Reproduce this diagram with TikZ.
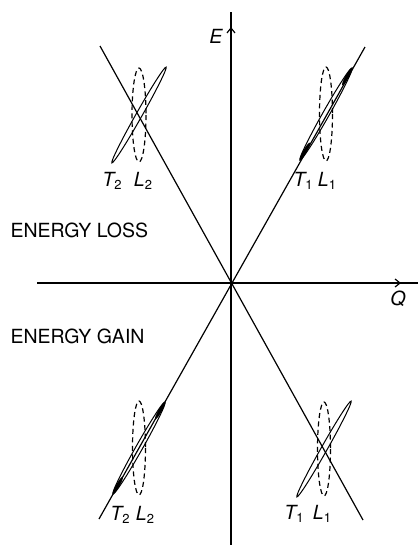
\documentclass[tikz,border=0pt]{standalone}
\usepackage{fontspec}
\setmainfont{TeX Gyre Heros}
\usetikzlibrary{arrows.meta}
\begin{document}
\begin{tikzpicture}[x=1pt,y=-1pt,line width=1.2pt,
  axisline/.style={line width=1.2pt},
  branch/.style={line width=1.2pt},
  tell/.style={line width=1pt},
  lell/.style={line width=1.2pt,dash pattern=on 5pt off 3.5pt},
  axtip/.style={-{Straight Barb[length=5pt,width=8pt,line width=1.2pt]}},
  lab/.style={font=\fontsize{19.5}{19.5}\selectfont,inner sep=0pt}]
\useasboundingbox (0,0) rectangle (420,550);
\newcommand\subn[1]{\raisebox{-3.5pt}{\fontsize{13}{13}\selectfont\upshape #1}}
% axes
\coordinate (O) at (231,283);
\coordinate (xl) at (37,283);
\coordinate (xr) at (418,283);
\coordinate (yt) at (231,12);
\coordinate (yb) at (231,545);
\draw[axisline] (xl) -- (xr);
\draw[axisline] (yt) -- (yb);
\coordinate (xa) at (390,283);
\coordinate (xat) at (401,283);
\coordinate (ya) at (231,38);
\coordinate (yat) at (231,27);
\draw[axtip] (xa) -- (xat);
\draw[axtip] (ya) -- (yat);
% branches
\coordinate (A1) at (100,46);
\coordinate (A2) at (363,520);
\coordinate (B1) at (99,519);
\coordinate (B2) at (365,47);
\draw[branch] (A1) -- (A2);
\draw[branch] (B1) -- (B2);
% upper left
\coordinate (UL) at (139,115);
\draw[lell] (UL) ellipse [x radius=7,y radius=47];
\draw[tell,shift={(UL)},rotate=60.5] (0,0) ellipse [x radius=55,y radius=3];
% upper right
\coordinate (UR) at (326,114);
\draw[lell] (UR) ellipse [x radius=6.5,y radius=47];
\draw[tell,shift={(UR)},rotate=60.5] (0,0) ellipse [x radius=53,y radius=3.3];
\fill[shift={(UR)},rotate=60.5] (43,0) ellipse [x radius=10,y radius=1.8];
\fill[shift={(UR)},rotate=60.5] (-43,0) ellipse [x radius=10,y radius=1.8];
% lower left
\coordinate (LL) at (139,448);
\draw[lell] (LL) ellipse [x radius=6.5,y radius=47];
\draw[tell,shift={(LL)},rotate=60.5] (0,0) ellipse [x radius=53,y radius=3.3];
\fill[shift={(LL)},rotate=60.5] (43,0) ellipse [x radius=10,y radius=1.8];
\fill[shift={(LL)},rotate=60.5] (-43,0) ellipse [x radius=10,y radius=1.8];
% lower right
\coordinate (LR) at (324,449);
\draw[lell] (LR) ellipse [x radius=6.5,y radius=47];
\draw[tell,shift={(LR)},rotate=60.5] (0,0) ellipse [x radius=55,y radius=3];
% labels
\node[lab] (E) at (216,36) {\itshape E};
\node[lab] (Q) at (398,299) {\itshape Q};
\node[lab,anchor=west] (loss) at (10,230) {ENERGY LOSS};
\node[lab,anchor=west] (gain) at (10,336) {ENERGY GAIN};
\node[lab] (t2u) at (112,181) {\itshape T\subn{2}};
\node[lab] (l2u) at (143,181) {\itshape L\subn{2}};
\node[lab] (t1u) at (303,181) {\itshape T\subn{1}};
\node[lab] (l1u) at (327,181) {\itshape L\subn{1}};
\node[lab] (t2d) at (120,515) {\itshape T\subn{2}};
\node[lab] (l2d) at (145,515) {\itshape L\subn{2}};
\node[lab] (t1d) at (294,514) {\itshape T\subn{1}};
\node[lab] (l1d) at (322,514) {\itshape L\subn{1}};
\end{tikzpicture}
\end{document}
